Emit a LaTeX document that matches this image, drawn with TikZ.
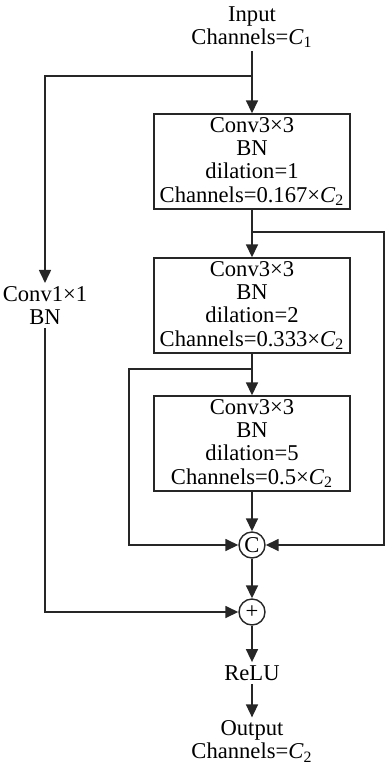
\documentclass[tikz,border=0pt]{standalone}
\usepackage{fontspec}
\setmainfont{Liberation Serif}
\usetikzlibrary{arrows.meta}
\tikzset{
  convbox/.style={draw=black!85, line width=0.7pt, minimum width=98pt, minimum height=47.5pt, align=center, inner sep=0pt},
  opcirc/.style={draw=black!85, circle, line width=0.7pt, minimum size=13pt, inner sep=0pt},
  txt/.style={align=center, inner sep=1.5pt},
  conn/.style={draw=black!85, line width=0.8pt},
}
\begin{document}
\begin{tikzpicture}[x=0.5pt, y=-0.5pt, >={Triangle[length=6.5pt,width=6pt]}, font=\fontsize{11.3}{11.6}\selectfont]
\useasboundingbox (0,0) rectangle (386,767);

% Input and output labels
\node[txt] (input) at (252,27) {Input\\Channels=\textit{C}\textsubscript{1}};
\node[txt] (output) at (252,741.5) {Output\\Channels=\textit{C}\textsubscript{2}};
\node[txt] (relu) at (252,673) {ReLU};
\node[txt] (conv1) at (45,305.5) {Conv1×1\\BN};

% Three dilated conv blocks
\foreach \y/\d/\c/\n in {161.5/1/0.167/b1, 305.5/2/0.333/b2, 443.5/5/0.5/b3} {
  \node[convbox] (\n) at (252,\y) {Conv3×3\\BN\\dilation=\d\\Channels=\c×\textit{C}\textsubscript{2}};
}

% Concat and add
\node[opcirc] (cat) at (252,545) {C};
\node[opcirc] (add) at (252,612) {+};

% Branch points
\coordinate (j1) at (252,76);
\coordinate (j2) at (252,232);
\coordinate (r2) at (384,232);
\coordinate (j3) at (252,369);
\coordinate (l3) at (129,369);

% Main path
\draw[conn,->] (input) -- (b1);
\draw[conn,->] (b1) -- (b2);
\draw[conn,->] (b2) -- (b3);
\draw[conn,->] (b3) -- (cat);
\draw[conn,->] (cat) -- (add);
\draw[conn,->] (add) -- (relu);
\draw[conn,->] (relu) -- (output);

% Side paths
\draw[conn,->] (j1) -| (conv1);
\draw[conn,->] (conv1) |- (add);
\draw[conn,->] (j2) -- (r2) |- (cat);
\draw[conn,->] (j3) -- (l3) |- (cat);
\end{tikzpicture}
\end{document}
